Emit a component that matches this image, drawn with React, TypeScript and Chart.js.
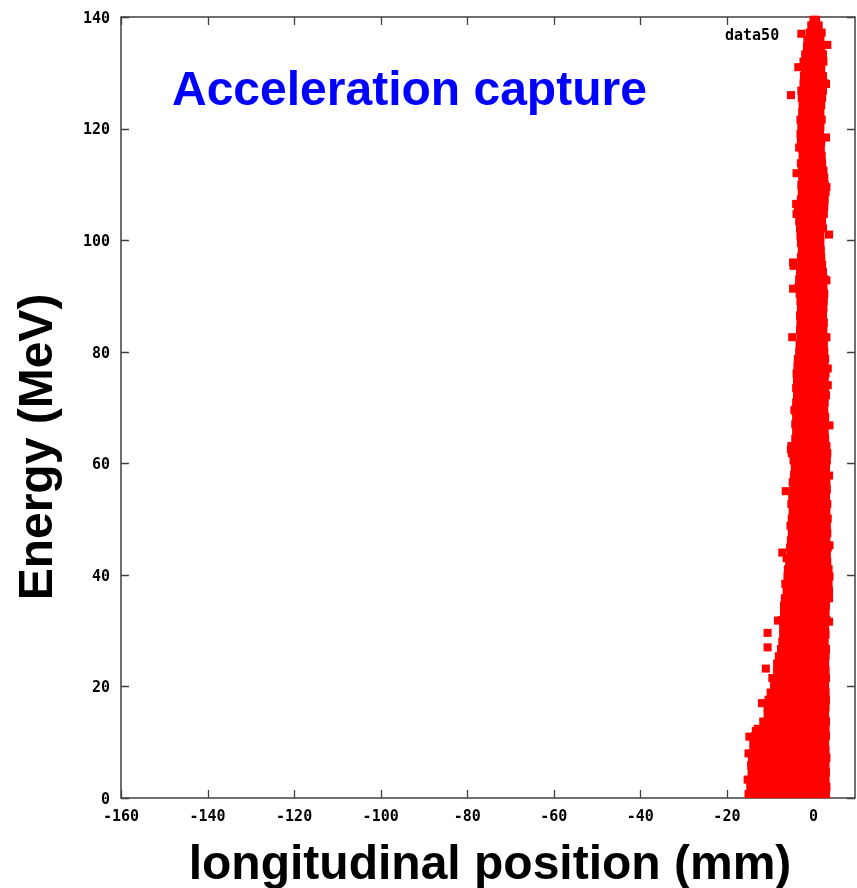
import React, { useEffect, useRef } from "react";
import { Chart, registerables } from "chart.js";

Chart.register(...registerables);

const chartTitle = "Acceleration capture";
const xAxisTitle = "longitudinal position (mm)";
const yAxisTitle = "Energy (MeV)";
const seriesLabel = "data50";

const xTickValues = [-160, -140, -120, -100, -80, -60, -40, -20, 0];
const yTickValues = [0, 20, 40, 60, 80, 100, 120, 140];

// Energy (MeV) of each scanned row of the particle cloud
const energyRows = [
  0.7, 2.0, 3.3, 4.6, 5.9, 7.2, 8.5, 9.8, 11.1, 12.4,
  13.7, 15.0, 16.3, 17.6, 18.9, 20.2, 21.5, 22.8, 24.1, 25.4,
  26.7, 28.0, 29.3, 30.6, 31.9, 33.2, 34.5, 35.8, 37.1, 38.4,
  39.7, 41.0, 42.3, 43.6, 44.9, 46.2, 47.5, 48.8, 50.1, 51.4,
  52.7, 54.0, 55.3, 56.6, 57.9, 59.2, 60.5, 61.8, 63.1, 64.4,
  65.7, 67.0, 68.3, 69.6, 70.9, 72.2, 73.5, 74.8, 76.1, 77.4,
  78.7, 80.0, 81.3, 82.6, 83.9, 85.2, 86.5, 87.8, 89.1, 90.4,
  91.7, 93.0, 94.3, 95.6, 96.9, 98.2, 99.5, 100.8, 102.1, 103.4,
  104.7, 106.0, 107.3, 108.6, 109.9, 111.2, 112.5, 113.8, 115.1, 116.4,
  117.7, 119.0, 120.3, 121.6, 122.9, 124.2, 125.5, 126.8, 128.1, 129.4,
  130.7, 132.0, 133.3, 134.6, 135.9, 137.2, 138.5, 139.5,
];

// Longitudinal positions (mm) of particles in each row above
const positionRows = [
  [-15.0, -13.5, -12.0, -10.5, -9.0, -7.5, -6.0, -4.5, -3.0, -1.5, 0.0, 1.5, 2.9],
  [-14.6, -13.1, -11.6, -10.1, -8.6, -7.1, -5.6, -4.1, -2.6, -1.1, 0.4, 1.8, 3.0],
  [-15.2, -13.7, -12.2, -10.7, -9.2, -7.7, -6.2, -4.7, -3.2, -1.7, -0.2, 1.3, 2.8],
  [-14.3, -12.8, -11.3, -9.8, -8.3, -6.8, -5.3, -3.8, -2.3, -0.8, 0.7, 2.0, 2.9],
  [-14.4, -12.9, -11.4, -9.9, -8.4, -6.9, -5.4, -3.9, -2.4, -0.9, 0.6, 2.0, 2.8],
  [-14.2, -12.7, -11.2, -9.7, -8.2, -6.7, -5.2, -3.7, -2.2, -0.7, 0.8, 2.2, 3.0],
  [-13.9, -12.4, -10.9, -9.4, -7.9, -6.4, -4.9, -3.4, -1.9, -0.4, 1.1, 2.4, 2.8],
  [-13.9, -12.4, -10.9, -9.4, -7.9, -6.4, -4.9, -3.4, -1.9, -0.4, 1.1, 2.3, 2.7],
  [-13.5, -12.0, -10.5, -9.0, -7.5, -6.0, -4.5, -3.0, -1.5, 0.0, 1.5, 2.9],
  [-12.9, -11.4, -9.9, -8.4, -6.9, -5.4, -3.9, -2.4, -0.9, 0.6, 2.0, 2.8],
  [-11.6, -10.1, -8.6, -7.1, -5.6, -4.1, -2.6, -1.1, 0.4, 1.8, 2.9],
  [-10.6, -9.1, -7.6, -6.1, -4.6, -3.1, -1.6, -0.1, 1.4, 2.7],
  [-10.6, -9.1, -7.6, -6.1, -4.6, -3.1, -1.6, -0.1, 1.4, 2.8],
  [-10.4, -8.9, -7.4, -5.9, -4.4, -2.9, -1.4, 0.1, 1.5, 2.9],
  [-9.9, -8.4, -6.9, -5.4, -3.9, -2.4, -0.9, 0.6, 1.9, 2.8],
  [-9.1, -7.6, -6.1, -4.6, -3.1, -1.6, -0.1, 1.4, 2.7],
  [-9.5, -8.0, -6.5, -5.0, -3.5, -2.0, -0.5, 1.0, 2.2, 2.9],
  [-8.4, -6.9, -5.4, -3.9, -2.4, -0.9, 0.6, 1.9, 2.8],
  [-8.4, -6.9, -5.4, -3.9, -2.4, -0.9, 0.6, 1.9, 2.7],
  [-8.0, -6.5, -5.0, -3.5, -2.0, -0.5, 1.0, 2.2, 2.8],
  [-7.5, -6.0, -4.5, -3.0, -1.5, 0.0, 1.5, 2.9],
  [-7.2, -5.7, -4.2, -2.7, -1.2, 0.3, 1.7, 2.6],
  [-7.0, -5.5, -4.0, -2.5, -1.0, 0.5, 1.9, 2.8],
  [-7.0, -5.5, -4.0, -2.5, -1.0, 0.5, 1.9, 2.7],
  [-7.3, -5.8, -4.3, -2.8, -1.3, 0.2, 1.6, 3.0],
  [-6.8, -5.3, -3.8, -2.3, -0.8, 0.7, 2.0, 2.8],
  [-6.8, -5.3, -3.8, -2.3, -0.8, 0.7, 2.0, 2.9],
  [-6.6, -5.1, -3.6, -2.1, -0.6, 0.9, 2.2, 3.6],
  [-6.2, -4.7, -3.2, -1.7, -0.2, 1.3, 2.5, 3.6],
  [-6.5, -5.0, -3.5, -2.0, -0.5, 1.0, 2.3, 3.5],
  [-6.0, -4.5, -3.0, -1.5, 0.0, 1.5, 2.7, 3.7],
  [-5.9, -4.4, -2.9, -1.4, 0.1, 1.6, 2.8, 3.5],
  [-5.6, -4.1, -2.6, -1.1, 0.4, 1.8, 3.2],
  [-5.3, -3.8, -2.3, -0.8, 0.7, 2.0, 3.1],
  [-5.4, -3.9, -2.4, -0.9, 0.6, 2.0, 3.3],
  [-5.2, -3.7, -2.2, -0.7, 0.8, 2.0, 3.0],
  [-5.0, -3.5, -2.0, -0.5, 1.0, 2.2, 3.2],
  [-5.3, -3.8, -2.3, -0.8, 0.7, 2.0, 3.1],
  [-5.0, -3.5, -2.0, -0.5, 1.0, 2.2, 3.3],
  [-4.8, -3.3, -1.8, -0.3, 1.2, 2.4, 3.0],
  [-5.1, -3.6, -2.1, -0.6, 0.9, 2.1, 3.2],
  [-4.9, -3.4, -1.9, -0.4, 1.1, 2.2, 2.9],
  [-4.6, -3.1, -1.6, -0.1, 1.4, 2.5, 3.1],
  [-4.8, -3.3, -1.8, -0.3, 1.2, 2.3, 3.0],
  [-4.5, -3.0, -1.5, 0.0, 1.4, 2.8],
  [-4.3, -2.8, -1.3, 0.2, 1.6, 2.9],
  [-4.6, -3.1, -1.6, -0.1, 1.4, 2.5, 3.1],
  [-5.0, -3.5, -2.0, -0.5, 1.0, 2.2, 3.2],
  [-5.1, -3.6, -2.1, -0.6, 0.9, 2.0, 3.0],
  [-4.2, -2.7, -1.2, 0.3, 1.6, 2.7],
  [-4.0, -2.5, -1.0, 0.5, 1.7, 2.6],
  [-4.2, -2.7, -1.2, 0.3, 1.6, 2.5],
  [-4.0, -2.5, -1.0, 0.5, 1.7, 2.7],
  [-4.2, -2.7, -1.2, 0.3, 1.5, 2.5],
  [-4.0, -2.5, -1.0, 0.5, 1.6, 2.6],
  [-3.8, -2.3, -0.8, 0.7, 1.9, 2.9],
  [-4.0, -2.5, -1.0, 0.5, 1.7, 2.7],
  [-3.8, -2.3, -0.8, 0.7, 1.8, 2.6],
  [-3.9, -2.4, -0.9, 0.6, 1.8, 2.8],
  [-3.7, -2.2, -0.7, 0.8, 1.8, 2.5],
  [-3.6, -2.1, -0.6, 0.9, 2.0, 2.7],
  [-3.3, -1.8, -0.3, 1.1, 2.5],
  [-3.2, -1.7, -0.2, 1.1, 2.4],
  [-3.0, -1.5, 0.0, 1.3, 2.6],
  [-3.1, -1.6, -0.1, 1.1, 2.3],
  [-3.0, -1.5, 0.0, 1.2, 2.4],
  [-3.1, -1.6, -0.1, 1.1, 2.2],
  [-2.9, -1.4, 0.1, 1.2, 2.3],
  [-3.0, -1.5, 0.0, 1.2, 2.4],
  [-3.2, -1.7, -0.2, 1.2, 2.5],
  [-3.4, -1.9, -0.4, 1.0, 2.3],
  [-3.3, -1.8, -0.3, 1.1, 2.5],
  [-3.1, -1.6, -0.1, 1.1, 2.2],
  [-2.8, -1.3, 0.2, 1.3, 2.0],
  [-2.9, -1.4, 0.1, 1.0, 1.8],
  [-2.7, -1.2, 0.3, 1.1, 1.7],
  [-2.9, -1.4, 0.1, 1.0, 1.6],
  [-3.0, -1.5, 0.0, 1.0, 1.6],
  [-3.1, -1.6, -0.1, 1.2, 2.2],
  [-3.3, -1.8, -0.3, 1.0, 2.0],
  [-3.9, -2.4, -0.9, 0.6, 1.7, 2.4],
  [-3.6, -2.1, -0.6, 0.9, 1.9, 2.5],
  [-2.9, -1.4, 0.1, 1.4, 2.6],
  [-2.7, -1.2, 0.3, 1.6, 2.8],
  [-2.8, -1.3, 0.2, 1.5, 2.6],
  [-2.6, -1.1, 0.4, 1.5, 2.5],
  [-2.7, -1.2, 0.3, 1.4, 2.3],
  [-2.9, -1.4, 0.1, 1.2, 2.0],
  [-2.5, -1.0, 0.5, 1.9],
  [-2.6, -1.1, 0.4, 1.7],
  [-2.9, -1.4, 0.1, 1.8],
  [-3.0, -1.5, 0.0, 1.5],
  [-2.8, -1.3, 0.2, 1.6],
  [-3.0, -1.5, 0.0, 1.3, 1.9],
  [-2.6, -1.1, 0.4, 1.6],
  [-2.5, -1.0, 0.5, 1.8],
  [-2.7, -1.2, 0.3, 1.5, 2.0],
  [-2.8, -1.3, 0.2, 1.5, 2.2],
  [-2.3, -0.8, 0.7, 2.0, 2.6],
  [-2.2, -0.7, 0.8, 2.2],
  [-2.0, -0.5, 1.0, 1.8],
  [-2.3, -0.8, 0.7, 2.3],
  [-1.9, -0.4, 1.0, 2.2],
  [-1.5, 0.0, 1.4, 1.8],
  [-1.4, 0.1, 1.6],
  [-0.9, 0.6, 1.9],
  [-0.5, 0.7, 1.2],
  [0.0, 0.6],
];

// Isolated particles away from the core
const outlierPosition = [
  -15.0, -14.8, -13.3, -11.9, -11.0, -10.6, -10.6, -8.2, 3.6, -7.2,
  -6.2, -6.4, 3.7, -5.2, 3.3, 3.3, -4.9, 3.0, -4.7, -4.7,
  3.6, -4.0, -3.3, 2.9, -5.2, 2.9, -2.8, 3.0, 3.0, 3.6,
  3.7, -4.4, -4.6, -3.9, 3.2, -3.5,
];
const outlierEnergy = [
  8.0, 11.0, 12.0, 17.0, 23.2, 27.0, 29.6, 31.8, 31.6, 44.0,
  43.0, 55.0, 66.8, 62.5, 74.0, 77.0, 82.6, 82.6, 91.3, 96.0,
  101.0, 106.5, 116.6, 118.4, 126.0, 128.0, 137.0, 109.5, 92.8, 57.8,
  45.3, 69.5, 95.4, 112.0, 135.0, 131.0,
];

const tickFont = { family: '"DejaVu Sans Mono", monospace', size: 15, weight: "bold" as const };

export default function App() {
  const canvasRef = useRef<HTMLCanvasElement | null>(null);

  useEffect(() => {
    const canvas = canvasRef.current;
    if (!canvas) return;

    const points: { x: number; y: number }[] = [];
    energyRows.forEach((e, i) => {
      positionRows[i].forEach((x) => points.push({ x, y: e }));
    });
    outlierPosition.forEach((x, i) => points.push({ x, y: outlierEnergy[i] }));

    const decor = {
      id: "decor",
      beforeDatasetsDraw(chart: any) {
        const { ctx, chartArea: a, scales } = chart;
        const xs = scales.x;
        const ys = scales.y;
        ctx.save();
        ctx.strokeStyle = "#404040";
        ctx.lineWidth = 1.5;
        ctx.strokeRect(a.left, a.top, a.right - a.left, a.bottom - a.top);
        ctx.lineWidth = 1.3;
        ctx.beginPath();
        xTickValues.forEach((v) => {
          const px = Math.round(xs.getPixelForValue(v)) + 0.5;
          ctx.moveTo(px, a.bottom);
          ctx.lineTo(px, a.bottom - 8);
          ctx.moveTo(px, a.top);
          ctx.lineTo(px, a.top + 8);
        });
        yTickValues.forEach((v) => {
          const py = Math.round(ys.getPixelForValue(v)) + 0.5;
          ctx.moveTo(a.left, py);
          ctx.lineTo(a.left + 8, py);
          ctx.moveTo(a.right, py);
          ctx.lineTo(a.right - 8, py);
        });
        ctx.stroke();
        ctx.restore();
      },
      afterDraw(chart: any) {
        const { ctx } = chart;
        ctx.save();
        ctx.fillStyle = "#000000";
        ctx.font = 'bold 15px "DejaVu Sans Mono", monospace';
        ctx.textAlign = "left";
        ctx.textBaseline = "alphabetic";
        ctx.fillText(seriesLabel, 725, 40);

        ctx.font = 'bold 48px "Liberation Sans", Arial, sans-serif';
        ctx.fillStyle = "#0000ff";
        ctx.fillText(chartTitle, 172, 105);

        ctx.fillStyle = "#000000";
        ctx.textAlign = "center";
        ctx.fillText(xAxisTitle, 490, 879);

        ctx.translate(52, 447);
        ctx.rotate(-Math.PI / 2);
        ctx.fillText(yAxisTitle, 0, 0);
        ctx.restore();
      },
    };

    const chart = new Chart(canvas, {
      type: "scatter",
      data: {
        datasets: [
          {
            label: seriesLabel,
            data: points,
            backgroundColor: "#ff0000",
            borderColor: "#ff0000",
            borderWidth: 0,
            pointStyle: "rect",
            pointRadius: 5.7,
            pointHoverRadius: 5.7,
            clip: false as any,
          },
        ],
      },
      options: {
        animation: false,
        responsive: false,
        devicePixelRatio: 1,
        events: [],
        layout: { autoPadding: false, padding: { top: 17, right: 2, left: 0, bottom: 0 } },
        plugins: {
          legend: { display: false },
          tooltip: { enabled: false },
          title: { display: false },
        },
        scales: {
          x: {
            type: "linear",
            min: -160,
            max: 9.6,
            grid: { display: false, drawTicks: false },
            border: { display: false },
            ticks: {
              stepSize: 20,
              includeBounds: false,
              padding: 10,
              color: "#000000",
              font: tickFont,
              maxRotation: 0,
              autoSkip: false,
              callback: (v: any) => String(v),
            },
            afterBuildTicks: (scale: any) => {
              scale.ticks = xTickValues.map((value) => ({ value }));
            },
            afterFit: (scale: any) => {
              scale.height = 90;
              scale.paddingRight = 0;
              scale.paddingLeft = 0;
            },
          },
          y: {
            type: "linear",
            min: 0,
            max: 140,
            grid: { display: false, drawTicks: false },
            border: { display: false },
            ticks: {
              stepSize: 20,
              padding: 11,
              labelOffset: 2,
              color: "#000000",
              font: tickFont,
              autoSkip: false,
              callback: (v: any) => String(v),
            },
            afterBuildTicks: (scale: any) => {
              scale.ticks = yTickValues.map((value) => ({ value }));
            },
            afterFit: (scale: any) => {
              scale.width = 121;
              scale.paddingTop = 0;
              scale.paddingBottom = 0;
            },
          },
        },
      },
      plugins: [decor],
    });

    return () => chart.destroy();
  }, []);

  return (
    <div style={{ position: "fixed", left: 0, top: 0, width: 857, height: 888, background: "#ffffff" }}>
      <canvas ref={canvasRef} width={857} height={888} style={{ display: "block", width: 857, height: 888 }} />
    </div>
  );
}
